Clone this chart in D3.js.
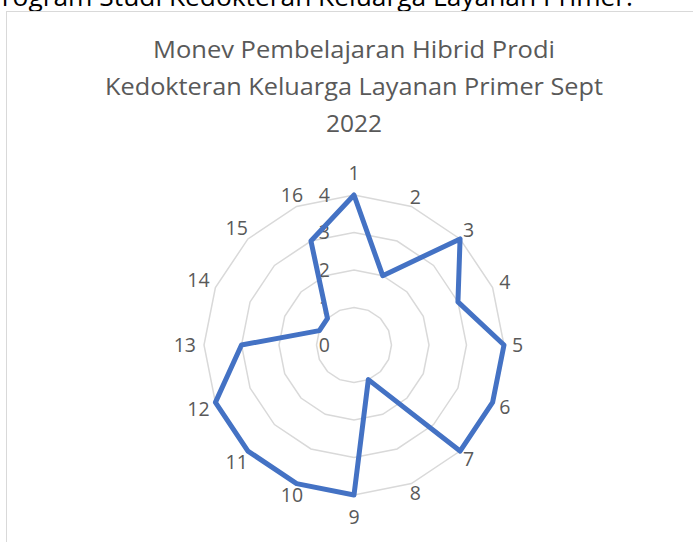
<!DOCTYPE html>
<html>
<head>
<meta charset="utf-8">
<script src="https://cdn.jsdelivr.net/npm/d3@7"></script>
<style>
  body { margin: 0; background: #fff; }
  text { font-family: "Open Sans", "Noto Sans", sans-serif; }
</style>
</head>
<body>
<div id="chart"></div>
<script>
// data
var categories = ["1", "2", "3", "4", "5", "6", "7", "8", "9", "10", "11", "12", "13", "14", "15", "16"];
var values = [4, 2, 4, 3, 4, 4, 4, 1, 4, 4, 4, 4, 3, 1, 1, 3];
var ticks = [0, 1, 2, 3, 4];
var titleLines = ["Monev Pembelajaran Hibrid Prodi", "Kedokteran Keluarga Layanan Primer Sept", "2022"];
var pageText = "Program Studi Kedokteran Keluarga Layanan Primer.";

var width = 693, height = 542;
var cx = 354, cy = 345, radius = 150;

var svg = d3.select("#chart")
  .append("svg")
    .attr("width", width)
    .attr("height", height);

// text of the document above, cut off by the window
svg.append("text")
  .attr("x", -14)
  .attr("y", 6)
  .attr("font-size", 25)
  .attr("fill", "#000")
  .attr("textLength", 647)
  .attr("lengthAdjust", "spacingAndGlyphs")
  .text(pageText);

// chart box border
svg.append("rect")
  .attr("x", 6.5)
  .attr("y", 11.5)
  .attr("width", 800)
  .attr("height", 600)
  .attr("fill", "none")
  .attr("stroke", "#d9d9d9")
  .attr("stroke-width", 1);

// title
var titleWidths = [402, 498, null];
svg.append("g")
  .selectAll("text")
  .data(titleLines)
  .enter()
  .append("text")
    .attr("x", cx)
    .attr("y", (d, i) => 57.5 + i * 37)
    .attr("text-anchor", "middle")
    .attr("font-size", 24.5)
    .attr("fill", "#595959")
    .each(function(d, i) {
      if (titleWidths[i]) {
        d3.select(this).attr("textLength", titleWidths[i]).attr("lengthAdjust", "spacingAndGlyphs");
      }
    })
    .text(d => d);

var r = d3.scaleLinear().domain([0, 4]).range([0, radius]);
var angle = d3.scaleLinear().domain([0, categories.length]).range([0, 2 * Math.PI]);

var g = svg.append("g")
  .attr("transform", "translate(" + cx + "," + cy + ")");

// grid rings
var ring = d3.lineRadial()
  .angle((d, i) => angle(i))
  .radius(d => r(d))
  .curve(d3.curveLinearClosed);

g.append("g")
  .selectAll("path")
  .data(ticks.filter(t => t > 0))
  .enter()
  .append("path")
    .attr("d", t => ring(categories.map(() => t)))
    .attr("fill", "none")
    .attr("stroke", "#d9d9d9")
    .attr("stroke-width", 1.5);

// value labels
g.append("g")
  .selectAll("text")
  .data(ticks)
  .enter()
  .append("text")
    .attr("x", -24)
    .attr("y", t => -r(t))
    .attr("dy", "0.35em")
    .attr("text-anchor", "end")
    .attr("font-size", 19.5)
    .attr("fill", "#595959")
    .text(t => t);

// series
g.append("path")
  .datum(values)
  .attr("d", ring)
  .attr("fill", "none")
  .attr("stroke", "#4472C4")
  .attr("stroke-width", 5)
  .attr("stroke-linejoin", "round");

// category labels
g.append("g")
  .selectAll("text")
  .data(categories)
  .enter()
  .append("text")
    .attr("text-anchor", "middle")
    .attr("dy", "0.35em")
    .attr("font-size", 19.5)
    .attr("fill", "#595959")
    .text(d => d)
    .each(function(d, i) {
      var a = angle(i);
      var s = Math.sin(a), c = Math.cos(a);
      var w = this.getComputedTextLength();
      var rr = radius + 8 + Math.abs(s) * w / 2 + (Math.abs(s) < 0.01 ? 14 : 0);
      d3.select(this)
        .attr("x", rr * s)
        .attr("y", -rr * c);
    });
</script>
</body>
</html>
